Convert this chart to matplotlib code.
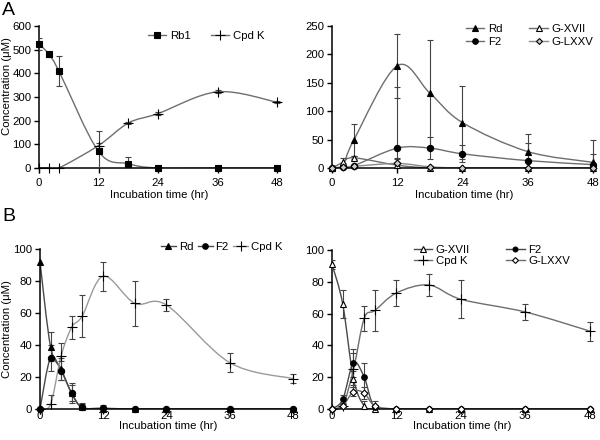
import numpy as np
import matplotlib
matplotlib.use("Agg")
import matplotlib.pyplot as plt
from matplotlib.path import Path
from matplotlib.patches import PathPatch
from matplotlib.lines import Line2D

plt.rcParams['font.family'] = ['Liberation Sans', 'DejaVu Sans']
plt.rcParams['font.size'] = 8.2

# ---- panel A (substrate Rb1) ----
tA = [0, 2, 4, 12, 18, 24, 36, 48]
rb1 = [525, 480, 410, 70, 18, 0, 0, 0]
rb1_err = [25, 12, 65, 85, 27, 0, 0, 0]
cpdk_a = [0, 0, 0, 95, 190, 230, 322, 278]
cpdk_a_err = [0, 0, 0, 10, 6, 6, 6, 5]

rd_a = [0, 5, 49, 180, 132, 80, 29, 10]
rd_a_err = [0, 3, 28, 56, 93, 65, 31, 39]
f2_a = [0, 1, 4, 35, 35, 25, 13, 6]
f2_a_err = [0, 1, 2, 107, 20, 15, 31, 18]
gxvii_a = [0, 10, 18, 5, 0, 0, 0, 0]
gxvii_a_err = [0, 7, 3, 12, 1, 0, 0, 0]
glxxv_a = [0, 2, 3, 8, 2, 0, 0, 0]
glxxv_a_err = [0, 1, 1, 8, 2, 0, 0, 0]

# ---- panel B ----
tB = [0, 2, 4, 6, 8, 12, 18, 24, 36, 48]
rd_b = [92, 39, 25, 10, 1, 0, 0, 0, 0, 0]
rd_b_err = [0, 9, 7, 5, 2, 1, 0, 0, 0, 0]
f2_b = [0, 32, 24, 10, 1, 0.5, 0, 0, 0, 0]
f2_b_err = [0, 8, 6, 6, 3, 2, 0, 0, 0, 0]
cpdk_b = [0, 3, 33, 51, 58, 83, 66, 65, 29, 19]
cpdk_b_err = [0, 6, 8, 7, 13, 9, 14, 4, 6, 3]

gxvii_b = [91, 66, 19, 2, 0, 0, 0, 0, 0, 0]
gxvii_b_err = [3, 9, 5, 3, 1, 0, 0, 0, 0, 0]
f2_b2 = [0, 6, 29, 20, 1, 0, 0, 0, 0, 0]
f2_b2_err = [0, 3, 9, 9, 1, 0, 0, 0, 0, 0]
cpdk_b2 = [0, 2, 25, 57, 62, 73, 78, 69, 61, 49]
cpdk_b2_err = [0, 2, 10, 8, 13, 8, 7, 12, 5, 6]
glxxv_b = [0, 2, 11, 10, 2, 0, 0, 0, 0, 0]
glxxv_b_err = [0, 1, 3, 4, 3, 0, 0, 0, 0, 0]

xticks = [0, 12, 24, 36, 48]


def smooth_path(x, y):
    # Excel-style smoothed line: Catmull-Rom segments as cubic Beziers
    p = np.column_stack([x, y]).astype(float)
    n = len(p)
    verts = [p[0]]
    codes = [Path.MOVETO]
    for i in range(n - 1):
        p0 = p[i - 1] if i > 0 else p[i]
        p1, p2 = p[i], p[i + 1]
        p3 = p[i + 2] if i + 2 < n else p[i + 1]
        verts += [p1 + (p2 - p0) / 6, p2 - (p3 - p1) / 6, p2]
        codes += [Path.CURVE4] * 3
    return Path(verts, codes)


def series(ax, t, y, err, marker, lc, mfc='k', ms=4.5, label=None):
    ax.add_patch(PathPatch(smooth_path(t, y), facecolor='none',
                           edgecolor=lc, lw=1.0, zorder=2))
    t_e = [a for a, e in zip(t, err) if e > 0]
    y_e = [b for b, e in zip(y, err) if e > 0]
    e_e = [e for e in err if e > 0]
    ax.errorbar(t_e, y_e, yerr=e_e, fmt='none', ecolor='#444444', elinewidth=0.8,
                capsize=2.5, capthick=0.8, zorder=3)
    ax.plot(t, y, ls='none', marker=marker, ms=ms, mfc=mfc, mec='k',
            mew=0.8, zorder=4, clip_on=False)
    return Line2D([], [], color=lc, lw=1.0, marker=marker, ms=ms - 0.5,
                  mfc=mfc, mec='k', mew=0.8, label=label)


def style(ax, ymax, ystep, xpad, xlab_y, ylab_y=None):
    ax.set_xlim(0, 48.5)
    ax.set_ylim(0, ymax)
    ax.set_xticks(xticks)
    ax.set_yticks(np.arange(0, ymax + 1, ystep))
    for s in ['top', 'right']:
        ax.spines[s].set_visible(False)
    for s in ['left', 'bottom']:
        ax.spines[s].set_linewidth(1.1)
    ax.tick_params(direction='out', length=3.5, width=1.0, pad=2)
    ax.tick_params(axis='x', pad=xpad)
    ax.set_xlabel('Incubation time (hr)', va='center')
    bb = ax.get_position()
    ax.xaxis.set_label_coords(0.5, -xlab_y / (bb.height * H))
    if ylab_y is not None:
        ax.set_ylabel('Concentration (\u03bcM)', va='center')
        ax.yaxis.set_label_coords(-(bb.x0 * W - 7) / (bb.width * W), ylab_y)


fig = plt.figure(figsize=(6, 4.4), dpi=100)
W, H = 600, 440


def add_axes(x0, x1, y_top, y_bot):
    return fig.add_axes([x0 / W, 1 - y_bot / H, (x1 - x0) / W, (y_bot - y_top) / H])


ax1 = add_axes(39, 279.5, 26, 168)
ax2 = add_axes(332, 595.5, 26, 168)
ax3 = add_axes(40, 295.5, 249, 409)
ax4 = add_axes(332, 592.5, 250, 409)

# A left
h = []
h.append(series(ax1, tA, rb1, rb1_err, 's', '#6e6e6e', ms=5, label='Rb1'))
h.append(series(ax1, tA, cpdk_a, cpdk_a_err, '+', '#6e6e6e', ms=7, label='Cpd K'))
style(ax1, 600, 100, 4, 27, ylab_y=0.58)
ax1.legend(handles=h, loc='upper left', bbox_to_anchor=(148 / W, 1 - 31 / H),
           bbox_transform=fig.transFigure, frameon=False, ncol=2, borderpad=0,
           borderaxespad=0, handlelength=1.6, handletextpad=0.3, columnspacing=1.8)

# A right
h = []
h.append(series(ax2, tA, rd_a, rd_a_err, '^', '#6e6e6e', label='Rd'))
h.append(series(ax2, tA, f2_a, f2_a_err, 'o', '#6e6e6e', label='F2'))
h.append(series(ax2, tA, gxvii_a, gxvii_a_err, '^', '#6e6e6e', mfc='white', label='G-XVII'))
h.append(series(ax2, tA, glxxv_a, glxxv_a_err, 'D', '#8a8a8a', mfc='#cccccc', ms=3.5, label='G-LXXV'))
style(ax2, 250, 50, 4, 27)
ax2.legend(handles=h, loc='upper left', bbox_to_anchor=(466 / W, 1 - 24 / H),
           bbox_transform=fig.transFigure, frameon=False, ncol=2, borderpad=0,
           borderaxespad=0, handlelength=1.6, handletextpad=0.3, columnspacing=2.4,
           labelspacing=0.25)

# B left
h = []
h.append(series(ax3, tB, rd_b, rd_b_err, '^', '#4a4a4a', label='Rd'))
h.append(series(ax3, tB, f2_b, f2_b_err, 'o', '#4a4a4a', label='F2'))
h.append(series(ax3, tB, cpdk_b, cpdk_b_err, '+', '#9a9a9a', ms=7, label='Cpd K'))
style(ax3, 100, 20, -2, 17, ylab_y=0.5)
ax3.legend(handles=h, loc='upper left', bbox_to_anchor=(161 / W, 1 - 242 / H),
           bbox_transform=fig.transFigure, frameon=False, ncol=3, borderpad=0,
           borderaxespad=0, handlelength=1.3, handletextpad=0.25, columnspacing=0.4)

# B right
h = []
h.append(series(ax4, tB, gxvii_b, gxvii_b_err, '^', '#4a4a4a', mfc='white', label='G-XVII'))
h.append(series(ax4, tB, cpdk_b2, cpdk_b2_err, '+', '#6e6e6e', ms=7, label='Cpd K'))
h.append(series(ax4, tB, f2_b2, f2_b2_err, 'o', '#4a4a4a', ms=4, label='F2'))
h.append(series(ax4, tB, glxxv_b, glxxv_b_err, 'D', '#6e6e6e', mfc='white', ms=3.5, label='G-LXXV'))
style(ax4, 100, 20, -2, 17)
ax4.legend(handles=h, loc='upper left', bbox_to_anchor=(414 / W, 1 - 245 / H),
           bbox_transform=fig.transFigure, frameon=False, ncol=2, borderpad=0,
           borderaxespad=0, handlelength=1.6, handletextpad=0.3, columnspacing=3.2,
           labelspacing=0.1)

fig.text(2 / W, 1 - 2 / H, 'A', fontsize=14, va='top', ha='left')
fig.text(2 / W, 1 - 208 / H, 'B', fontsize=14, va='top', ha='left')

fig.savefig('out.png', dpi=100)
